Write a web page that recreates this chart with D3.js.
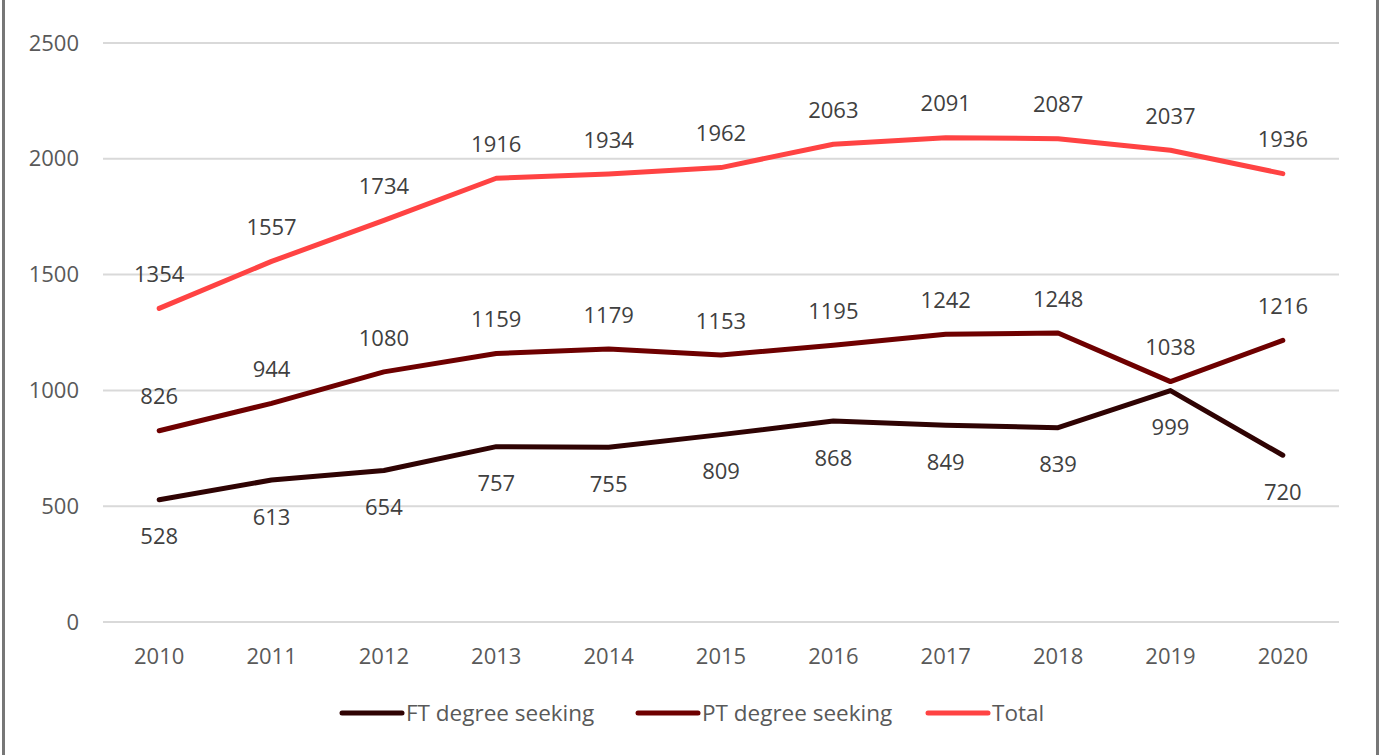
<!DOCTYPE html>
<html><head><meta charset="utf-8">
<script src="https://cdn.jsdelivr.net/npm/d3@7"></script>
<style>
html,body{margin:0;padding:0;background:#fff;}
svg{display:block;font-family:"Open Sans",sans-serif;}
</style></head>
<body><svg id="c" width="1379" height="755"></svg>
<script>
const years = ["2010","2011","2012","2013","2014","2015","2016","2017","2018","2019","2020"];
const ftDegree = [528,613,654,757,755,809,868,849,839,999,720];
const ptDegree = [826,944,1080,1159,1179,1153,1195,1242,1248,1038,1216];
const total = [1354,1557,1734,1916,1934,1962,2063,2091,2087,2037,1936];
const yTicks = [0,500,1000,1500,2000,2500];
const seriesNames = ["FT degree seeking","PT degree seeking","Total"];
const seriesColors = ["#2f0303","#6e0000","#ff4343"];
const labelPos = [
  ["below","below","below","below","below","below","below","below","below","below","below"],
  ["above","above","above","above","above","above","above","above","above","above","above"],
  ["above","above","above","above","above","above","above","above","above","above","above"]
];

const svg = d3.select("#c");
const W = 1379, H = 755;
const mLeft = 103, mRight = 1339, mTop = 43, mBottom = 622;
const FS = "22px";

svg.append("rect").attr("x",0).attr("y",0).attr("width",W).attr("height",H).attr("fill","#fff");
// frame borders
svg.append("line").attr("x1",3.5).attr("x2",3.5).attr("y1",0).attr("y2",H).attr("stroke","#777").attr("stroke-width",3);
svg.append("line").attr("x1",1377.5).attr("x2",1377.5).attr("y1",0).attr("y2",H).attr("stroke","#777").attr("stroke-width",3);

const x = d3.scaleBand().domain(years).range([mLeft,mRight]).padding(0);
const y = d3.scaleLinear().domain([0,2500]).range([mBottom,mTop]);
const cx = d => x(d) + x.bandwidth()/2;

// gridlines
svg.append("g").selectAll("line").data(yTicks).join("line")
  .attr("x1",mLeft).attr("x2",mRight)
  .attr("y1",d=>y(d)).attr("y2",d=>y(d))
  .attr("stroke","#d9d9d9").attr("stroke-width",2);

// y axis
const yAxis = d3.axisLeft(y).tickValues(yTicks).tickFormat(d3.format("d")).tickSize(0).tickPadding(0);
const gy = svg.append("g").attr("transform","translate(79,0)").call(yAxis);
gy.select(".domain").remove();
gy.selectAll("text").attr("fill","#595959").style("font-size",FS).style("font-family","'Open Sans',sans-serif");

// x axis
const xAxis = d3.axisBottom(x).tickSize(0).tickPadding(0);
const gx = svg.append("g").attr("transform","translate(0,656)").call(xAxis);
gx.select(".domain").remove();
gx.selectAll("text").attr("fill","#595959").style("font-size",FS).style("font-family","'Open Sans',sans-serif").attr("y",0).attr("dy","0.35em");

const allSeries = [ftDegree, ptDegree, total];
const line = d3.line().x((d,i)=>cx(years[i])).y(d=>y(d));

allSeries.forEach((s,k)=>{
  svg.append("path").datum(s).attr("d",line)
    .attr("fill","none").attr("stroke",seriesColors[k]).attr("stroke-width",5)
    .attr("stroke-linecap","round").attr("stroke-linejoin","round");
});

allSeries.forEach((s,k)=>{
  svg.append("g").selectAll("text").data(s).join("text")
    .attr("x",(d,i)=>cx(years[i]))
    .attr("y",(d,i)=>y(d) + (labelPos[k][i]==="above" ? -34 : 37))
    .attr("dy","0.35em")
    .attr("text-anchor","middle")
    .attr("fill","#404040")
    .style("font-size",FS)
    .text(d=>d);
});

// legend
const legendX = [342,638,928];
const lg = svg.append("g");
seriesNames.forEach((n,k)=>{
  lg.append("line").attr("x1",legendX[k]).attr("x2",legendX[k]+60).attr("y1",713).attr("y2",713)
    .attr("stroke",seriesColors[k]).attr("stroke-width",5).attr("stroke-linecap","round");
  lg.append("text").attr("x",legendX[k]+64).attr("y",713).attr("dy","0.35em")
    .attr("fill","#595959").style("font-size","22.5px").text(n);
});
</script></body></html>
